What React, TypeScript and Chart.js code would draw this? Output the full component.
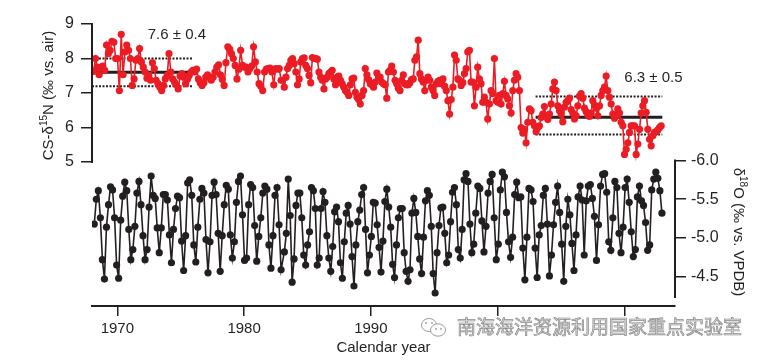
import React, { useEffect, useRef } from "react";
import { Chart, registerables } from "chart.js";

Chart.register(...registerables);

// ---------- DATA ----------
// CS-δ15N (‰ vs. air) in three consecutive periods
const RED_PERIOD_1 = [
  7.63, 8.0, 7.75, 7.53, 7.75, 7.78, 7.66, 8.39, 8.14, 8.24,
  8.5, 8.47, 8.0, 8.0, 7.07, 8.7, 7.53, 8.19, 8.39, 8.24,
  8.0, 7.22, 7.41, 7.95, 8.0, 8.29, 7.9, 7.75, 7.61, 7.43,
  7.51, 7.37, 7.88, 7.71, 7.37, 7.27, 7.17, 7.07, 7.22, 7.41,
  7.51, 8.14, 7.61, 7.41, 7.32, 7.24, 7.12, 7.49, 7.56, 7.46,
  7.27, 7.39, 7.51, 7.61, 7.66, 7.61, 7.69, 7.41, 7.3, 7.22,
  7.3, 7.46, 7.53, 7.46, 7.37, 7.46, 7.61, 7.75, 7.82, 7.53,
  7.39, 7.22, 7.88, 8.34, 8.27, 8.14, 8.0, 7.8, 7.41, 7.69,
  8.24, 7.8, 7.75, 7.75, 7.61, 7.71, 7.78, 8.34, 7.9, 7.61,
  7.27, 7.2, 7.07, 7.61, 7.69, 7.71, 7.72, 7.61, 7.24, 7.71,
  7.69, 7.71, 7.37,
];
const RED_PERIOD_2 = [
  7.37, 7.17, 7.46, 7.71, 7.8, 7.95, 8.0, 7.85, 7.61, 7.24,
  7.41, 7.9, 8.0, 8.02, 7.8, 7.71, 7.51, 7.3, 8.03, 8.0,
  8.0, 7.98, 7.61, 7.46, 7.37, 7.12, 7.41, 7.46, 7.56, 7.61,
  7.66, 7.41, 7.24, 7.46, 7.49, 7.37, 7.27, 7.17, 7.07, 7.02,
  6.93, 7.24, 7.41, 7.43, 7.02, 6.88, 6.81, 6.68, 6.93, 7.07,
  7.71, 7.53, 7.39, 7.27, 7.24, 7.17, 7.32, 7.58, 7.46, 7.46,
  7.32, 7.27, 7.24, 6.85, 7.61, 7.66, 7.78, 7.61, 7.37, 7.27,
  7.14, 7.07, 7.37, 7.53, 7.27, 7.24, 7.24, 7.3, 7.39, 7.41,
  7.95, 8.05, 8.53, 7.56, 7.41, 7.32, 7.07, 7.37, 7.46, 7.37,
  7.17, 7.07, 6.93, 7.27, 7.34, 7.37, 7.27, 7.41, 7.2, 7.07,
  6.78, 6.39, 6.81, 7.17, 8.1, 7.95, 7.41, 7.37, 7.22, 7.3,
  7.56, 7.71, 8.19, 8.24, 7.32,
];
const RED_PERIOD_3 = [
  7.32, 6.63, 7.17, 7.75, 7.41, 7.27, 6.73, 6.88, 6.73, 6.25,
  6.68, 7.07, 6.98, 8.0, 6.78, 6.73, 6.93, 6.68, 6.98, 7.34,
  6.93, 6.83, 6.63, 6.42, 7.07, 7.37, 7.56, 7.46, 7.07, 6.0,
  5.84, 5.95, 5.56, 6.15, 6.54, 6.49, 6.15, 6.05, 5.88, 6.0,
  6.05, 6.29, 6.39, 6.61, 6.32, 6.23, 6.39, 6.68, 7.12, 7.32,
  7.07, 6.63, 6.49, 6.39, 6.17, 6.59, 6.73, 6.78, 6.85, 6.52,
  6.42, 6.25, 6.34, 6.63, 6.91, 6.98, 6.85, 6.56, 6.46, 6.36,
  6.32, 6.42, 6.78, 6.65, 6.56, 6.34, 6.63, 6.93, 7.07, 7.17,
  7.49, 7.07, 6.88, 6.68, 6.39, 6.27, 6.34, 6.54, 6.42, 6.15,
  6.05, 5.22, 5.37, 5.56, 5.86, 6.05, 6.05, 6.05, 5.22, 5.52,
  5.95, 6.42, 6.63, 6.78, 6.44, 5.95, 5.66, 5.47, 5.76, 5.86,
  5.88, 5.93, 6.0, 6.05,
];
const RED_PERIOD_YEARS = [
  [1968.13, 1982.92],
  [1983.04, 1997.91],
  [1998.04, 2012.91],
];

// δ18O (‰ vs. VPDB)
const O18_PERIOD_1 = [
  -5.18, -5.5, -5.61, -5.26, -4.72, -4.47, -5.14, -5.43, -5.66, -5.62,
  -5.26, -4.65, -4.48, -5.23, -5.54, -5.72, -5.61, -5.11, -4.72, -4.85,
  -5.15, -5.58, -5.73, -5.43, -5.03, -4.72, -4.85, -5.4, -5.8, -5.55,
  -5.51, -5.13, -4.81, -5.13, -5.56, -5.56, -5.49, -5.04, -4.68, -5.11,
  -5.38, -5.54, -5.52, -4.96, -4.58, -5.03, -5.71, -5.75, -5.55, -4.91,
  -4.69, -5.14, -5.5, -5.64, -5.58, -4.98, -4.55, -4.95, -5.55, -5.72,
  -5.56, -5.06, -4.57, -5.03, -5.43, -5.68, -5.63, -5.04, -4.74, -4.95,
  -5.46, -5.73, -5.8, -5.3, -4.71, -4.74, -5.43, -5.69, -5.65, -5.16,
  -4.7, -5.02, -5.26, -5.58, -5.67, -5.63, -4.91, -4.61, -5.03, -5.55,
  -5.65, -5.17, -4.59,
];
const O18_PERIOD_2 = [
  -4.82, -5.06, -5.76, -5.29, -4.43, -4.73, -5.42, -5.58, -5.58,
  -5.26, -4.78, -4.65, -4.91, -5.08, -5.65, -5.61, -5.38, -4.65, -4.74,
  -5.38, -5.6, -5.46, -5.03, -4.74, -4.57, -4.89, -5.34, -5.4, -5.21,
  -4.68, -4.48, -4.95, -5.32, -5.42, -5.18, -4.76, -4.38, -4.91, -5.21,
  -5.36, -5.56, -5.65, -5.11, -4.55, -4.78, -5.02, -5.46, -5.45, -5.17,
  -4.88, -4.56, -4.96, -5.47, -5.63, -5.4, -5.14, -4.66, -4.49, -4.91,
  -5.26, -5.38, -5.38, -4.81, -4.57, -4.44, -4.59, -5.32, -5.51, -5.33,
  -5.02, -4.73, -4.54, -5.01, -5.48, -5.61, -5.55, -5.15, -4.54, -4.29,
  -4.81, -5.16, -5.39, -5.4, -5.06, -4.68, -4.78, -5.21, -5.59, -5.65,
  -5.43, -4.85, -4.74, -5.11, -5.75, -5.83, -5.73, -5.18, -4.81,
];
const O18_PERIOD_3 = [
  -4.92, -5.32, -5.67, -5.64, -5.22, -4.82, -5.15, -5.58, -5.73, -5.82,
  -5.26, -4.72, -4.92, -5.62, -5.85, -5.79, -5.33, -4.95, -4.75, -5.01,
  -5.56, -5.72, -5.52, -5.53, -4.87, -4.46, -5.01, -5.64, -5.62, -5.47,
  -4.87, -4.49, -5.04, -5.16, -5.55, -5.64, -5.18, -4.51, -4.78, -5.17,
  -5.46, -5.67, -5.33, -4.92, -4.44, -5.15, -5.5, -5.3, -4.93, -4.58,
  -5.04, -5.53, -5.67, -5.49, -4.78, -5.48, -5.67, -5.69, -5.51, -5.28,
  -4.71, -5.17, -5.67, -5.82, -5.83, -5.59, -4.95, -4.84, -5.26, -5.73,
  -5.65, -5.06, -4.81, -5.14, -5.65, -5.76, -5.46, -5.08, -4.76, -4.85,
  -5.53, -5.67, -5.48, -5.42, -5.2, -4.84, -4.91, -5.62, -5.76, -5.85,
  -5.77, -5.61, -5.32,
];
const O18_PERIOD_YEARS = [
  [1968.18, 1982.92],
  [1983.18, 1997.97],
  [1998.12, 2012.97],
];

// mean ± 1σ bands
const BAND_START = [1968, 2003];
const BAND_END = [1976, 2013];
const BAND_MEAN = [7.6, 6.3];
const BAND_UPPER = [8.0, 6.9];
const BAND_LOWER = [7.2, 5.8];
const BAND_LABELS = ["7.6 \u00b1 0.4", "6.3 \u00b1 0.5"];
const BAND_LABEL_X = [1974.7, 2012.3];
const BAND_LABEL_Y = [8.69, 7.45];

// axes
const X_TICKS = [1970, 1980, 1990, 2000, 2010];
const X_TICK_LABELS = ["1970", "1980", "1990", "", ""]; // 2000 & 2010 hidden under the watermark
const N15_TICKS = [5, 6, 7, 8, 9];
const O18_TICKS = [-6.0, -5.5, -5.0, -4.5];

const INK = "#231f20";
const RED = "#ec1c24";
const FONT = "'Liberation Sans', Arial, Helvetica, sans-serif";

function timeSeries(periods: number[][], spans: number[][]) {
  const out: { x: number; y: number }[] = [];
  periods.forEach((vals, k) => {
    const [a, b] = spans[k];
    vals.forEach((v, i) => {
      out.push({ x: a + ((b - a) * i) / (vals.length - 1), y: v });
    });
  });
  return out;
}

function drawRich(
  ctx: CanvasRenderingContext2D,
  parts: { t: string; sup?: boolean }[],
  size: number
) {
  const supSize = Math.round(size * 0.68);
  let total = 0;
  const widths = parts.map((p) => {
    ctx.font = `${p.sup ? supSize : size}px ${FONT}`;
    const w = ctx.measureText(p.t).width;
    total += w;
    return w;
  });
  let x = -total / 2;
  parts.forEach((p, i) => {
    ctx.font = `${p.sup ? supSize : size}px ${FONT}`;
    ctx.fillText(p.t, x, p.sup ? -size * 0.42 : 0);
    x += widths[i];
  });
}

const WATERMARK = "\u5357\u6d77\u6d77\u6d0b\u8d44\u6e90\u5229\u7528\u56fd\u5bb6\u91cd\u70b9\u5b9e\u9a8c\u5ba4";

const decorPlugin = {
  id: "decor",
  afterDraw(chart: any) {
    const { ctx, chartArea, scales } = chart;
    const x = scales.x;
    const y = scales.y;
    const y2 = scales.y2;
    ctx.save();
    ctx.strokeStyle = INK;
    ctx.lineWidth = 2;
    // left axis spine (5..9)
    ctx.beginPath();
    ctx.moveTo(chartArea.left, y.getPixelForValue(9) - 1);
    ctx.lineTo(chartArea.left, y.getPixelForValue(5) + 1);
    ctx.stroke();
    // right axis spine (-6.0 .. lower end)
    ctx.beginPath();
    ctx.moveTo(chartArea.right, y2.getPixelForValue(-6.0) - 1);
    ctx.lineTo(chartArea.right, y2.getPixelForValue(-4.225));
    ctx.stroke();

    ctx.fillStyle = INK;
    ctx.textAlign = "left";
    ctx.textBaseline = "alphabetic";
    // left title
    ctx.save();
    ctx.translate(53, 95.5);
    ctx.rotate(-Math.PI / 2);
    drawRich(
      ctx,
      [{ t: "CS-\u03b4" }, { t: "15", sup: true }, { t: "N (\u2030 vs. air)" }],
      15
    );
    ctx.restore();
    // right title
    ctx.save();
    ctx.translate(734, 232);
    ctx.rotate(Math.PI / 2);
    drawRich(
      ctx,
      [{ t: "\u03b4" }, { t: "18", sup: true }, { t: "O (\u2030 vs. VPDB)" }],
      15
    );
    ctx.restore();

    // band labels
    ctx.font = `15px ${FONT}`;
    ctx.textAlign = "center";
    ctx.textBaseline = "middle";
    BAND_LABELS.forEach((lab, i) => {
      ctx.fillText(lab, x.getPixelForValue(BAND_LABEL_X[i]), y.getPixelForValue(BAND_LABEL_Y[i]));
    });

    // watermark
    const wmY = 327;
    ctx.strokeStyle = "#9a9a9a";
    ctx.lineWidth = 1;
    ctx.beginPath();
    ctx.ellipse(429, 325, 7.5, 6.5, 0, 0, Math.PI * 2);
    ctx.stroke();
    ctx.beginPath();
    ctx.ellipse(438, 330, 7.5, 6.2, 0, 0, Math.PI * 2);
    ctx.fillStyle = "#fff";
    ctx.fill();
    ctx.stroke();
    ctx.fillStyle = "#9a9a9a";
    [[426, 323], [432, 323], [436, 329], [441, 329]].forEach(([cx, cy]) => {
      ctx.beginPath();
      ctx.arc(cx, cy, 0.9, 0, Math.PI * 2);
      ctx.fill();
    });
    ctx.font = `19px 'Noto Sans CJK SC', sans-serif`;
    ctx.textAlign = "left";
    ctx.textBaseline = "middle";
    ctx.fillStyle = "#dadada";
    ctx.fillText(WATERMARK, 457, wmY);
    ctx.strokeStyle = "#8a8a8a";
    ctx.lineWidth = 0.7;
    ctx.strokeText(WATERMARK, 457, wmY);
    ctx.restore();
  },
};

export default function App() {
  const ref = useRef<HTMLCanvasElement | null>(null);

  useEffect(() => {
    if (!ref.current) return;
    const redData = timeSeries([RED_PERIOD_1, RED_PERIOD_2, RED_PERIOD_3], RED_PERIOD_YEARS);
    const o18Data = timeSeries([O18_PERIOD_1, O18_PERIOD_2, O18_PERIOD_3], O18_PERIOD_YEARS);

    const bandSets: any[] = [];
    BAND_MEAN.forEach((m, i) => {
      const seg = (v: number) => [
        { x: BAND_START[i], y: v },
        { x: BAND_END[i], y: v },
      ];
      bandSets.push({
        data: seg(m),
        yAxisID: "y",
        borderColor: INK,
        borderWidth: 3,
        pointRadius: 0,
        order: 5,
      });
      bandSets.push({
        data: seg(BAND_UPPER[i]),
        yAxisID: "y",
        borderColor: INK,
        borderWidth: 2,
        borderDash: [2, 1.5],
        pointRadius: 0,
        order: 5,
      });
      bandSets.push({
        data: seg(BAND_LOWER[i]),
        yAxisID: "y",
        borderColor: INK,
        borderWidth: 2,
        borderDash: [2, 1.5],
        pointRadius: 0,
        order: 5,
      });
    });

    const chart = new Chart(ref.current, {
      type: "line",
      data: {
        datasets: [
          {
            data: redData,
            yAxisID: "y",
            borderColor: RED,
            backgroundColor: RED,
            borderWidth: 1.6,
            pointRadius: 3.6,
            pointBorderWidth: 0,
            pointBackgroundColor: RED,
            order: 1,
          },
          {
            data: o18Data,
            yAxisID: "y2",
            borderColor: INK,
            backgroundColor: INK,
            borderWidth: 1.6,
            pointRadius: 3.6,
            pointBorderWidth: 0,
            pointBackgroundColor: INK,
            order: 2,
          },
          ...bandSets,
        ],
      },
      options: {
        responsive: false,
        animation: false,
        devicePixelRatio: 1,
        layout: { padding: { top: 24, left: 0, right: 0, bottom: 0 } },
        plugins: { legend: { display: false }, tooltip: { enabled: false } },
        elements: { line: { tension: 0 } },
        scales: {
          x: {
            type: "linear",
            min: 1968,
            max: 2014,
            afterBuildTicks: (s: any) => {
              s.ticks = X_TICKS.map((v) => ({ value: v }));
            },
            afterFit: (s: any) => {
              s.height = 55;
            },
            ticks: {
              autoSkip: false,
              maxRotation: 0,
              padding: 4,
              color: INK,
              font: { family: FONT, size: 15 },
              callback: (v: any) => X_TICK_LABELS[X_TICKS.indexOf(Number(v))] ?? "",
            },
            grid: {
              display: true,
              drawOnChartArea: false,
              drawTicks: true,
              tickLength: 10,
              color: INK,
              lineWidth: 1.5,
            },
            border: { display: true, color: INK, width: 2 },
            title: {
              display: true,
              text: "Calendar year",
              color: INK,
              font: { family: FONT, size: 15 },
              padding: { top: 0, bottom: 4 },
            },
          },
          y: {
            type: "linear",
            position: "left",
            min: 0.83,
            max: 9,
            afterBuildTicks: (s: any) => {
              s.ticks = N15_TICKS.map((v) => ({ value: v }));
            },
            afterFit: (s: any) => {
              s.width = 92;
            },
            ticks: {
              padding: 7,
              color: INK,
              font: { family: FONT, size: 16 },
              callback: (v: any) => String(v),
            },
            grid: {
              display: true,
              drawOnChartArea: false,
              drawTicks: true,
              tickLength: 11,
              color: INK,
              lineWidth: 1.5,
            },
            border: { display: false },
          },
          y2: {
            type: "linear",
            position: "right",
            reverse: true,
            min: -7.762,
            max: -4.122,
            afterBuildTicks: (s: any) => {
              s.ticks = O18_TICKS.map((v) => ({ value: v }));
            },
            afterFit: (s: any) => {
              s.width = 92;
            },
            ticks: {
              padding: 5,
              color: INK,
              font: { family: FONT, size: 16 },
              callback: (v: any) => Number(v).toFixed(1),
            },
            grid: {
              display: true,
              drawOnChartArea: false,
              drawTicks: true,
              tickLength: 11,
              color: INK,
              lineWidth: 1.5,
            },
            border: { display: false },
          },
        },
      },
      plugins: [decorPlugin],
    });
    return () => chart.destroy();
  }, []);

  return (
    <div style={{ position: "fixed", left: 0, top: 0, width: 767, height: 361, background: "#fff" }}>
      <canvas ref={ref} width={767} height={361} style={{ display: "block", width: 767, height: 361 }} />
    </div>
  );
}
